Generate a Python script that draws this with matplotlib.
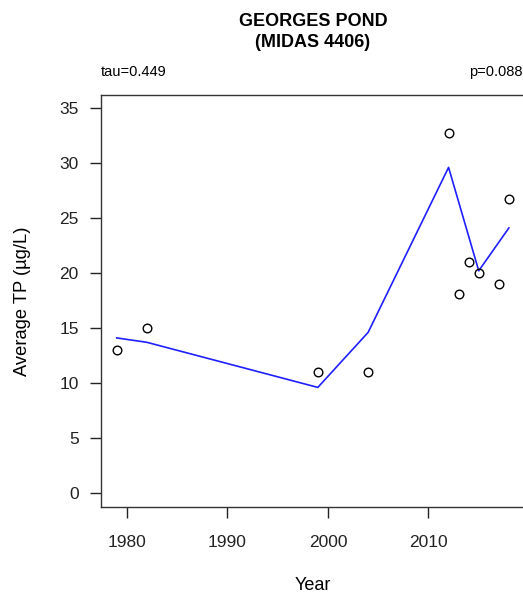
import matplotlib
matplotlib.use("Agg")
import matplotlib.pyplot as plt

plt.rcParams['font.family'] = ['Liberation Sans', 'DejaVu Sans']

# observed annual means
years = [1979, 1982, 1999, 2004, 2012, 2013, 2014, 2015, 2017, 2018]
tp = [13.0, 15.0, 11.0, 11.0, 32.7, 18.1, 21.0, 20.0, 19.0, 26.7]

# smoothed trend line
trend_years = [1979, 1982, 1999, 2004, 2012, 2015, 2018]
trend_tp = [14.1, 13.7, 9.6, 14.6, 29.6, 20.2, 24.1]

x_ticks = [1980, 1990, 2000, 2010]
y_ticks = [0, 5, 10, 15, 20, 25, 30, 35]

W, H = 523, 592
fig = plt.figure(figsize=(W / 100, H / 100), dpi=100)
# axes box in pixels: left 101, top 95, right ~525, bottom 507
ax = fig.add_axes([101 / W, 1 - 507 / H, (525 - 101) / W, (507 - 95) / H])

ax.plot(trend_years, trend_tp, color='#1f1fff', lw=1.2, zorder=2)
ax.plot(years, tp, 'o', mfc='none', mec='black', ms=6.2, mew=1.0, zorder=3)

ax.set_xlim(1977.44, 2019.6)
ax.set_ylim(-1.27, 36.18)
ax.set_xticks(x_ticks)
ax.set_yticks(y_ticks)
ax.tick_params(axis='both', direction='out', length=8, width=1, labelsize=12.5, colors='#222222')
ax.tick_params(axis='x', pad=12)
ax.tick_params(axis='y', pad=8)
for s in ax.spines.values():
    s.set_color('#333333')
    s.set_linewidth(1)

ax.set_ylabel('Average TP (µg/L)', fontsize=13.2, labelpad=20)
fig.text(313 / W, 1 - 585 / H, 'Year', ha='center', va='center', fontsize=13)

fig.text(313 / W, 1 - 32 / H, 'GEORGES POND\n(MIDAS 4406)', ha='center', va='center',
         fontsize=13, fontweight='bold', linespacing=1.3)
fig.text(101 / W, 1 - 72 / H, 'tau=0.449', ha='left', va='center', fontsize=10.5)
fig.text(523 / W, 1 - 72 / H, 'p=0.088', ha='right', va='center', fontsize=10.5)

fig.savefig('out.png', dpi=100)
